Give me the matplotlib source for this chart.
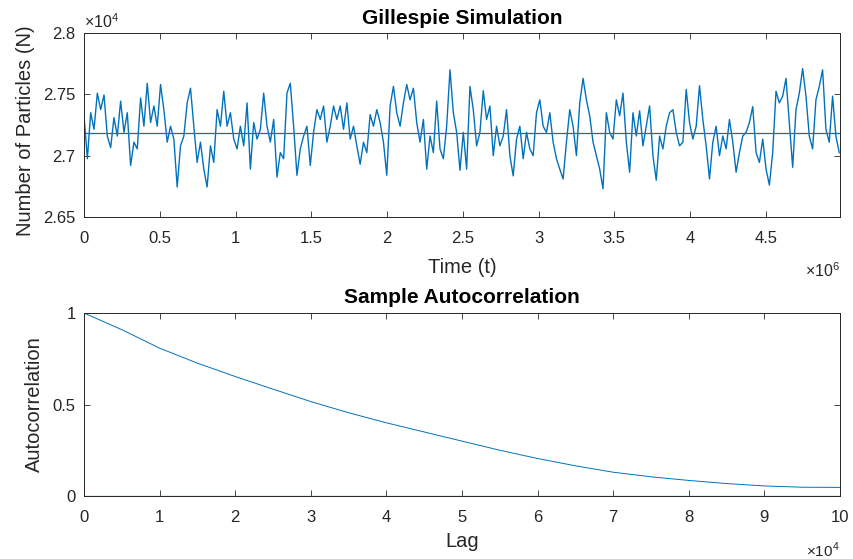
import numpy as np
import matplotlib
matplotlib.use("Agg")
import matplotlib.pyplot as plt

plt.rcParams['font.family'] = ['Liberation Sans', 'DejaVu Sans']
plt.rcParams['mathtext.fontset'] = 'custom'
plt.rcParams['mathtext.rm'] = 'Liberation Sans'

# Gillespie trace (number of particles)
n_particles = [
    27325, 26975, 27350, 27215, 27510, 27375, 27495, 27160, 27065, 27310,
    27160, 27445, 27190, 27350, 26920, 27110, 27055, 27470, 27240, 27590,
    27270, 27405, 27240, 27580, 27375, 27110, 27240, 27135, 26745, 27080,
    27160, 27430, 27550, 27240, 26945, 27110, 26890, 26745,
    27080, 26945, 27375, 27240, 27525, 27240, 27350, 27135, 27055, 27240,
    27080, 27430, 26890, 27270, 27135, 27215, 27510, 27240, 27110, 27295,
    26825, 27025, 26975, 27510, 27590, 27240, 26840, 27055, 27160, 27240,
    26920, 27190, 27375, 27295, 27405, 27110, 27240, 27405,
    27295, 27405, 27215, 27430, 27135, 27240, 27080, 26930, 27110, 27025,
    27335, 27240, 27375, 27270, 27110, 26840, 27405, 27565, 27350, 27240,
    27430, 27580, 27455, 27550, 27270, 27110, 27295, 26890, 27160, 27025,
    27445, 27055, 26975, 27240, 27700, 27350, 27190, 26880,
    27190, 26890, 27565, 27375, 27080, 27190, 27530, 27295, 27405, 27000,
    27240, 27080, 27160, 27375, 27000, 26835, 27135, 27240, 26975, 27190,
    27055, 27000, 27350, 27455, 27240, 27190, 27350, 27110, 26975, 26890,
    26810, 27110, 27375, 27240, 27000, 27430, 27630, 27455,
    27325, 27110, 27000, 26890, 26730, 27350, 27190, 27135, 27455, 27325,
    27510, 27110, 26865, 27350, 27160, 27365, 27080, 27240, 27405, 27000,
    26800, 27160, 27055, 27240, 27350, 27375, 27190, 27080, 27110, 27540,
    27270, 27135, 27240, 27570, 27295, 27080, 26810, 27110,
    27240, 27000, 27160, 27055, 27295, 27110, 26865, 27025, 27160, 27190,
    27270, 27400, 27025, 26945, 27135, 26890, 26760, 27025, 27525, 27430,
    27485, 27630, 27270, 26905, 27375, 27510, 27710, 27485, 27160, 27055,
    27455, 27565, 27700, 27215, 27110, 27485, 27160, 27025,
]
t_end = 4.985e6
mean_n = 27185

# sample autocorrelation
lags = [0, 5000, 10000, 15000, 20000, 25000, 30000, 35000, 40000, 45000,
        50000, 55000, 60000, 65000, 70000, 75000, 80000, 85000, 90000,
        95000, 100000]
acf = [1.0, 0.909, 0.808, 0.726, 0.653, 0.584, 0.516, 0.455, 0.40, 0.35,
       0.30, 0.25, 0.205, 0.165, 0.13, 0.105, 0.085, 0.068, 0.055, 0.048,
       0.047]

blue = '#0072BD'
axc = '#262626'
tick_fs = 12
label_fs = 14.5
title_fs = 15

t = np.linspace(0, t_end, len(n_particles))

fig = plt.figure(figsize=(8.54, 5.59), dpi=100)
ax1 = fig.add_axes([0.0984, 0.6118, 0.8852, 0.3292])
ax2 = fig.add_axes([0.0984, 0.1127, 0.8852, 0.3273])

ax1.plot(t, n_particles, color=blue, lw=1.0)
ax1.axhline(mean_n, color=blue, lw=0.9)
ax1.set_xlim(0, 4.99e6)
ax1.set_ylim(26500, 28000)
ax1.set_xticks(np.arange(0, 4.6e6, 0.5e6))
ax1.set_xticklabels(['0', '0.5', '1', '1.5', '2', '2.5', '3', '3.5', '4', '4.5'])
ax1.set_yticks([26500, 27000, 27500, 28000])
ax1.set_yticklabels(['2.65', '2.7', '2.75', '2.8'])
ax1.set_title('Gillespie Simulation', fontsize=title_fs, fontweight='bold',
              y=1.049, pad=0)
ax1.set_xlabel('Time (t)', fontsize=label_fs, color=axc)
ax1.set_ylabel('Number of Particles (N)', fontsize=label_fs, color=axc)
ax1.xaxis.set_label_coords(0.5, -0.225)
ax1.yaxis.set_label_coords(-0.065, 0.47)
ax1.text(0, 1.01, r'$\times10^{4}$', transform=ax1.transAxes, fontsize=11.5,
         color=axc, ha='left', va='bottom')
ax1.text(1, -0.24, r'$\times10^{6}$', transform=ax1.transAxes, fontsize=11.5,
         color=axc, ha='right', va='top')

ax2.plot(lags, acf, color=blue, lw=0.7)
ax2.axhline(0, color=blue, lw=0.9)
ax2.set_xlim(0, 100000)
ax2.set_ylim(0, 1)
ax2.set_xticks(np.arange(0, 100001, 10000))
ax2.set_xticklabels([str(i) for i in range(11)])
ax2.set_yticks([0, 0.5, 1])
ax2.set_yticklabels(['0', '0.5', '1'])
ax2.set_title('Sample Autocorrelation', fontsize=title_fs, fontweight='bold',
              y=1.055, pad=0)
ax2.set_xlabel('Lag', fontsize=label_fs, color=axc)
ax2.set_ylabel('Autocorrelation', fontsize=label_fs, color=axc)
ax2.xaxis.set_label_coords(0.5, -0.195)
ax2.yaxis.set_label_coords(-0.053, 0.5)
ax2.text(1, -0.245, r'$\times10^{4}$', transform=ax2.transAxes, fontsize=11,
         color=axc, ha='right', va='top')

for ax in (ax1, ax2):
    ax.tick_params(direction='in', length=4, width=0.6, colors=axc,
                   labelsize=tick_fs, top=True, right=True)
    ax.tick_params(axis='x', pad=10)
    ax.tick_params(axis='y', pad=6)
    for s in ax.spines.values():
        s.set_color(axc)
        s.set_linewidth(0.7)

fig.savefig('out.png', dpi=100)
